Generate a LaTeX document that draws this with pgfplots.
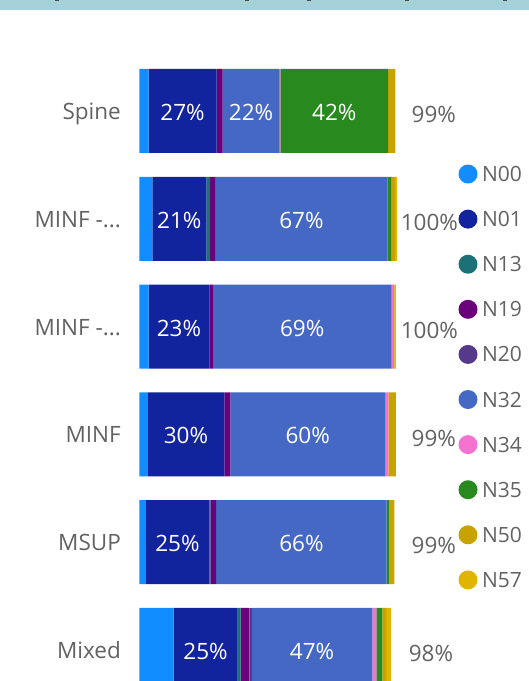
\documentclass[border=0pt]{standalone}
\usepackage{fontspec}
\setmainfont{Open Sans}
\usepackage{pgfplots}
\pgfplotsset{compat=1.18}
\definecolor{cN00}{HTML}{118DFF}
\definecolor{cN01}{HTML}{12239E}
\definecolor{cN13}{HTML}{1B7175}
\definecolor{cN19}{HTML}{6B007B}
\definecolor{cN20}{HTML}{55398B}
\definecolor{cN32}{HTML}{4668C5}
\definecolor{cN34}{HTML}{F472D0}
\definecolor{cN35}{HTML}{288A1E}
\definecolor{cN50}{HTML}{C8A300}
\definecolor{cN57}{HTML}{DFB500}
\definecolor{labelgray}{HTML}{626262}
\definecolor{strip}{HTML}{A5D1D8}
\pgfplotsset{circleg/.style={legend image code/.code={\fill[##1] (9.5pt,1.75pt) circle (9.5pt);}}}
\newcommand{\minfdots}{MINF -.{}.{}.}
\begin{document}
\begin{tikzpicture}
\begin{axis}[
  at={(139.5pt,0pt)}, anchor=south west,
  scale only axis, width=387pt, height=681pt,
  xmin=0, xmax=150, ymin=-0.2876, ymax=6.0297,
  enlargelimits=false,
  xbar stacked, bar width=84pt,
  axis line style={draw=none}, tick style={draw=none},
  xtick=\empty, ytick={0,1,2,3,4,5},
  yticklabels={Mixed,MSUP,MINF,\minfdots,\minfdots,Spine},
  yticklabel style={anchor=base east, inner sep=0pt, xshift=-18.5pt, yshift=-8.5pt,
    font=\fontsize{22.5pt}{26pt}\selectfont, text=labelgray},
  legend cell align=left,
  legend style={at={(0.8243,0.7584)}, anchor=north west, draw=none, fill=none,
    inner sep=0pt, outer sep=0pt, row sep=24.1pt, column sep=4.5pt,
    cells={anchor=west},
    nodes={inner sep=0pt, outer sep=0pt, text height=15.5pt, text depth=4pt,
      font=\fontsize{21pt}{25pt}\selectfont, text=labelgray}},
]
\addplot[fill=cN00, draw=none, circleg] coordinates {(3.5,5) (5.0,4) (3.5,3) (3.1,2) (2.3,1) (13.2,0)};
\addplot[fill=cN01, draw=none, circleg] coordinates {(26.4,5) (20.9,4) (23.6,3) (29.8,2) (24.8,1) (24.8,0)};
\addplot[fill=cN13, draw=none, circleg] coordinates {(0,5) (1.5,4) (0,3) (0,2) (0.4,1) (1.2,0)};
\addplot[fill=cN19, draw=none, circleg] coordinates {(2.3,5) (1.9,4) (1.3,3) (2.3,2) (2.2,1) (3.5,0)};
\addplot[fill=cN20, draw=none, circleg] coordinates {(0,5) (0,4) (0,3) (0,2) (0,1) (0.8,0)};
\addplot[fill=cN32, draw=none, circleg] coordinates {(22.1,5) (66.9,4) (69.3,3) (60.0,2) (66.1,1) (46.8,0)};
\addplot[fill=cN34, draw=none, circleg] coordinates {(0.3,5) (0,4) (0.5,3) (1.3,2) (0,1) (1.5,0)};
\addplot[fill=cN35, draw=none, circleg] coordinates {(41.8,5) (1.3,4) (0,3) (0,2) (0.9,1) (2.3,0)};
\addplot[fill=cN50, draw=none, circleg] coordinates {(2.8,5) (1.5,4) (0.6,3) (2.9,2) (2.1,1) (1.5,0)};
\addplot[fill=cN57, draw=none, circleg] coordinates {(0,5) (0.8,4) (0.6,3) (0,2) (0,1) (1.9,0)};
\legend{N00,N01,N13,N19,N20,N32,N34,N35,N50,N57}
\end{axis}
\begin{axis}[
  at={(139.5pt,0pt)}, anchor=south west,
  scale only axis, width=387pt, height=681pt,
  xmin=0, xmax=150, ymin=-0.2876, ymax=6.0297,
  hide axis, clip=false,
]
\addplot[draw=none, nodes near coords, point meta=explicit symbolic,
  every node near coord/.append style={anchor=base, inner sep=0pt, text=white,
    font=\fontsize{22.5pt}{26pt}\selectfont, yshift=-9.5pt}]
  table[meta=label] {
x y label
16.7 5 27\%
43.25 5 22\%
75.5 5 42\%
15.45 4 21\%
62.75 4 67\%
15.3 3 23\%
63.05 3 69\%
18.0 2 30\%
65.2 2 60\%
14.7 1 25\%
62.75 1 66\%
25.6 0 25\%
66.9 0 47\%
};
\addplot[draw=none, nodes near coords, point meta=explicit symbolic,
  every node near coord/.append style={anchor=base west, inner sep=0pt, text=labelgray,
    font=\fontsize{22.5pt}{26pt}\selectfont, yshift=-11.8pt}]
  table[meta=label] {
x y label
105.4 5 99\%
101.2 4 100\%
101.2 3 100\%
105.4 2 99\%
105.4 1 99\%
104.3 0 98\%
};
\end{axis}
\fill[strip] (0pt,671pt) rectangle (529pt,681pt);
\fill[black!70] (55pt,680pt) rectangle (59pt,681pt);
\fill[black!70] (245pt,680pt) rectangle (249pt,681pt);
\fill[black!70] (307pt,680pt) rectangle (311pt,681pt);
\fill[black!70] (405pt,680pt) rectangle (409pt,681pt);
\fill[black!70] (503pt,680pt) rectangle (507pt,681pt);
\pgfresetboundingbox
\path[use as bounding box] (0pt,0pt) rectangle (529pt,681pt);
\end{tikzpicture}
\end{document}
